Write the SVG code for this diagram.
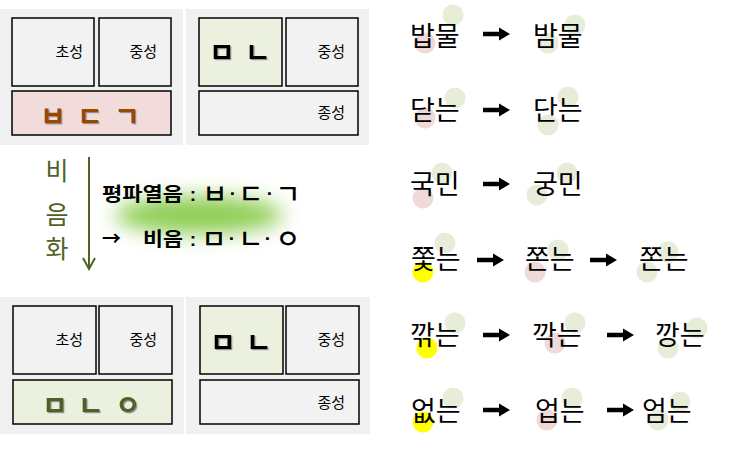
<svg xmlns="http://www.w3.org/2000/svg" width="731" height="455" viewBox="0 0 731 455">
<defs>
<style>
.panel{fill:#f0f0f0}
.box{fill:#f2f2f2;stroke:#000;stroke-width:1.5}
.pink{fill:#f2dcdb}
.grn{fill:#ebf1de}
.lbl{font-family:"Noto Sans CJK KR","Liberation Sans",sans-serif;font-size:15px;fill:#000;text-anchor:end}
.jamo{font-family:"Noto Sans CJK KR","Liberation Sans",sans-serif;font-size:28px;font-weight:bold;text-anchor:middle}
.mid{font-family:"Noto Sans CJK KR","Liberation Sans",sans-serif;font-size:19px;font-weight:bold;fill:#000}
.pun{font-family:"Liberation Sans",sans-serif;font-size:19px;font-weight:bold;fill:#000;text-anchor:middle}
.mj{font-family:"Noto Sans CJK KR","Liberation Sans",sans-serif;font-size:27px;font-weight:500;fill:#000;text-anchor:middle}
.vert{font-family:"Noto Sans CJK KR","Liberation Sans",sans-serif;font-size:25px;fill:#4f6228;text-anchor:middle}
.word{font-family:"Noto Sans CJK KR","Liberation Sans",sans-serif;font-size:27px;fill:#000}
.cp{fill:#efd9d9}
.cg{fill:#e8edda}
.cy{fill:#ffff00}
</style>
<filter id="sh" x="-20%" y="-20%" width="150%" height="150%">
<feDropShadow dx="1.2" dy="1.2" stdDeviation="0.6" flood-color="#7f7f7f" flood-opacity="0.8"/>
</filter>
<filter id="glow" x="-50%" y="-150%" width="200%" height="400%">
<feGaussianBlur stdDeviation="10"/>
</filter>
<path id="ar" d="M0,-2.2 H16 V-6.5 L27,0 L16,6.5 V2.2 H0 Z" fill="#000"/>
</defs>
<rect width="731" height="455" fill="#fff"/>

<g id="top-left">
<rect class="panel" x="0" y="9" width="183" height="136"/>
<rect class="box" x="12" y="18" width="82" height="68"/>
<text class="lbl" x="83" y="57">초성</text>
<rect class="box" x="99" y="18" width="72" height="68"/>
<text class="lbl" x="157" y="57">중성</text>
<rect class="box pink" x="12" y="91" width="159" height="44"/>
<g filter="url(#sh)" fill="#984806">
<text class="jamo" x="53" y="127">ㅂ</text>
<text class="jamo" x="90" y="127">ㄷ</text>
<text class="jamo" x="127" y="127">ㄱ</text>
</g>
</g>

<g id="top-right">
<rect class="panel" x="186" y="9" width="183" height="136"/>
<rect class="box grn" x="199" y="18" width="83" height="68"/>
<g filter="url(#sh)" fill="#000">
<text class="jamo" x="222" y="63">ㅁ</text>
<text class="jamo" x="258" y="63">ㄴ</text>
</g>
<rect class="box" x="286" y="18" width="72" height="68"/>
<text class="lbl" x="345" y="57">중성</text>
<rect class="box" x="199" y="91" width="159" height="44"/>
<text class="lbl" x="345" y="118">종성</text>
</g>

<g id="bottom-left">
<rect class="panel" x="0" y="297" width="184" height="137"/>
<rect class="box" x="13" y="306" width="83" height="68"/>
<text class="lbl" x="83" y="345">초성</text>
<rect class="box" x="99" y="306" width="73" height="68"/>
<text class="lbl" x="157" y="345">중성</text>
<rect class="box grn" x="13" y="380" width="159" height="44"/>
<g filter="url(#sh)" fill="#4f6228">
<text class="jamo" x="55" y="416">ㅁ</text>
<text class="jamo" x="91" y="416">ㄴ</text>
<text class="jamo" x="128" y="416">ㅇ</text>
</g>
</g>

<g id="bottom-right">
<rect class="panel" x="186" y="297" width="184" height="137"/>
<rect class="box grn" x="200" y="306" width="83" height="68"/>
<g filter="url(#sh)" fill="#000">
<text class="jamo" x="223" y="353">ㅁ</text>
<text class="jamo" x="259" y="353">ㄴ</text>
</g>
<rect class="box" x="286" y="306" width="73" height="68"/>
<text class="lbl" x="345" y="345">중성</text>
<rect class="box" x="200" y="380" width="159" height="44"/>
<text class="lbl" x="345" y="408">종성</text>
</g>

<g id="nasalization">
<g filter="url(#glow)">
<ellipse cx="199" cy="215" rx="84" ry="19" fill="#8fce55"/>
</g>
<text class="vert" x="57" y="180">비</text>
<text class="vert" x="57" y="224">음</text>
<text class="vert" x="57" y="258">화</text>
<line x1="89" y1="157" x2="89" y2="268" stroke="#4f6228" stroke-width="2"/>
<polyline points="83,258 89,269 95,258" fill="none" stroke="#4f6228" stroke-width="2"/>
<text class="mid" x="102" y="201" textLength="81" lengthAdjust="spacingAndGlyphs">평파열음</text>
<text class="pun" x="193" y="201">:</text>
<text class="mj" x="215" y="204">ㅂ</text>
<text class="pun" x="233" y="200">·</text>
<text class="mj" x="251" y="204">ㄷ</text>
<text class="pun" x="270" y="200">·</text>
<text class="mj" x="288" y="204">ㄱ</text>
<text class="mid" x="102" y="246" font-weight="normal">→</text>
<text class="mid" x="143" y="246" textLength="40" lengthAdjust="spacingAndGlyphs">비음</text>
<text class="pun" x="193" y="246">:</text>
<text class="mj" x="214" y="249">ㅁ</text>
<text class="pun" x="232" y="245">·</text>
<text class="mj" x="251" y="249">ㄴ</text>
<text class="pun" x="268" y="245">·</text>
<text class="mj" x="288" y="249">ㅇ</text>
</g>

<g id="w-1a"><circle class="cp" cx="425" cy="43" r="10.5"/><circle class="cg" cx="453" cy="15" r="10.5"/><text class="word" x="410" y="46">밥물</text></g>
<g id="w-1b"><circle class="cg" cx="548" cy="43" r="10.5"/><circle class="cg" cx="575" cy="25" r="10.5"/><text class="word" x="533" y="46">밤물</text></g>

<g id="w-2a"><circle class="cp" cx="425" cy="118" r="10.5"/><circle class="cg" cx="455" cy="98" r="10.5"/><text class="word" x="410" y="120">닫는</text></g>
<g id="w-2b"><circle class="cg" cx="548" cy="125" r="10.5"/><circle class="cg" cx="568" cy="97" r="10.5"/><text class="word" x="533" y="120">단는</text></g>

<g id="w-3a"><circle class="cp" cx="423" cy="198" r="10.5"/><circle class="cg" cx="442" cy="173" r="10.5"/><text class="word" x="410" y="194">국민</text></g>
<g id="w-3b"><circle class="cg" cx="537" cy="195" r="10.5"/><circle class="cg" cx="567" cy="173" r="10.5"/><text class="word" x="533" y="194">궁민</text></g>

<g id="w-4a"><circle class="cy" cx="423" cy="272" r="10.5"/><circle class="cg" cx="445" cy="243" r="10.5"/><text class="word" x="411" y="269">쫓는</text></g>
<g id="w-4b"><circle class="cp" cx="535" cy="272" r="10.5"/><circle class="cg" cx="558" cy="250" r="10.5"/><text class="word" x="525" y="269">쫀는</text></g>
<g id="w-4c"><circle class="cg" cx="647" cy="272" r="10.5"/><circle class="cg" cx="668" cy="252" r="10.5"/><text class="word" x="639" y="269">쫀는</text></g>

<g id="w-5a"><circle class="cy" cx="427" cy="348" r="10.5"/><circle class="cg" cx="455" cy="323" r="10.5"/><text class="word" x="410" y="345">깎는</text></g>
<g id="w-5b"><circle class="cp" cx="555" cy="343" r="10.5"/><circle class="cg" cx="575" cy="323" r="10.5"/><text class="word" x="532" y="345">깍는</text></g>
<g id="w-5c"><circle class="cg" cx="668" cy="348" r="10.5"/><circle class="cg" cx="697" cy="328" r="10.5"/><text class="word" x="655" y="345">깡는</text></g>

<g id="w-6a"><circle class="cy" cx="423" cy="422" r="10.5"/><circle class="cg" cx="453" cy="398" r="10.5"/><text class="word" x="411" y="421">없는</text></g>
<g id="w-6b"><circle class="cp" cx="547" cy="420" r="10.5"/><circle class="cg" cx="572" cy="398" r="10.5"/><text class="word" x="535" y="421">업는</text></g>
<g id="w-6c"><circle class="cg" cx="658" cy="420" r="10.5"/><circle class="cg" cx="680" cy="402" r="10.5"/><text class="word" x="642" y="421">엄는</text></g>

<g id="connectors">
<use href="#ar" x="483" y="34"/>
<use href="#ar" x="483" y="110"/>
<use href="#ar" x="483" y="184"/>
<use href="#ar" x="477" y="260"/>
<use href="#ar" x="590" y="260"/>
<use href="#ar" x="483" y="335"/>
<use href="#ar" x="607" y="335"/>
<use href="#ar" x="483" y="410"/>
<use href="#ar" x="607" y="410"/>
</g>
</svg>
